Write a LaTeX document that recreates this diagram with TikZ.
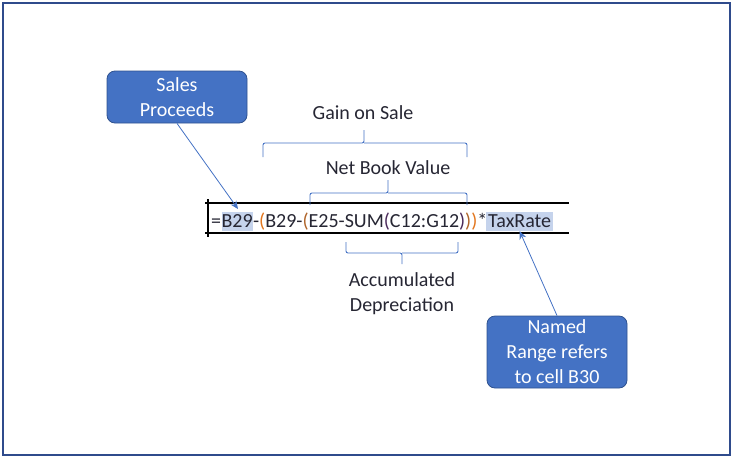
\documentclass[tikz,border=0pt]{standalone}
\usepackage{fontspec}
\setmainfont{Carlito}
\usetikzlibrary{arrows.meta}

\definecolor{boxblue}{HTML}{4472C4}
\definecolor{boxedge}{HTML}{2F528F}
\definecolor{framecol}{HTML}{2F4B8C}
\definecolor{hilite}{HTML}{C5D3EC}
\definecolor{ink}{HTML}{262633}
\definecolor{parA}{HTML}{E2761E}
\definecolor{parB}{HTML}{B0652A}
\definecolor{parC}{HTML}{4A2A5A}

\tikzset{
  callout/.style={draw=boxedge, fill=boxblue, rounded corners=8pt, text=white,
    align=center, minimum width=140pt, line width=0.8pt,
    font=\fontsize{20}{25}\selectfont},
  label/.style={align=center, text=ink, font=\fontsize{20}{25}\selectfont},
  piece/.style={anchor=base west, inner xsep=0pt, inner ysep=1pt, text=ink,
    text height=14pt, text depth=3pt, font=\fontsize{20}{24}\selectfont},
  brace/.style={draw=boxblue, line width=0.9pt, rounded corners=2pt},
  pointer/.style={draw=boxblue, line width=0.8pt,
    -{Stealth[length=8pt,width=7pt]}}
}

\begin{document}
\begin{tikzpicture}[x=1pt, y=-1pt]
    \useasboundingbox (0,0) rectangle (734,459);
    % Frame
    \draw[framecol, line width=1.5pt] (3,3) rectangle (730,455);

    % Formula cell
    \draw[line width=1.2pt] (205,203) -- (569,203);
    \draw[line width=1.2pt] (205,233) -- (569,233);
    \draw[line width=1.2pt] (208,199) -- (208,237);
    \node[piece] (eq) at (211,227) {=};
    \node[piece, fill=hilite] (ref) at (eq.base east) {B29};
    \node[piece] (mid) at (ref.base east)
      {-{\color{parA}(}B29-{\color{parB}(}E25-SUM{\color{parC}(}C12:G12{\color{parC})}{\color{parB})}{\color{parA})}*};
    \node[piece, fill=hilite, inner xsep=2pt] (tax) at ([xshift=-1.5pt]mid.base east) {TaxRate};

    % Gain on Sale
    \node[label] (gain) at (363,113) {Gain on Sale};
    \draw[brace] (263,157) |- (364,143) -- (364,130);
    \draw[brace] (364,143) -| (467,157);

    % Net Book Value
    \node[label] (nbv) at (388,168) {Net Book Value};
    \draw[brace] (310,205) |- (388,193) -- (388,180);
    \draw[brace] (388,193) -| (467,205);

    % Accumulated Depreciation
    \draw[brace] (346,242) |- (402,253) -- (402,264);
    \draw[brace] (402,253) -| (458,242);
    \node[label] (accum) at (402,294) {Accumulated\\Depreciation};

    % Callouts
    \node[callout, minimum height=52pt] (sales) at (177,97) {Sales\\Proceeds};
    \node[callout, minimum height=72pt] (named) at (557,352) {Named\\Range refers\\to cell B30};
    \coordinate (salestip) at (238,209);
    \draw[pointer] (sales.south) -- (salestip);
    \draw[pointer] (named.north) -- (tax.south);
\end{tikzpicture}
\end{document}
